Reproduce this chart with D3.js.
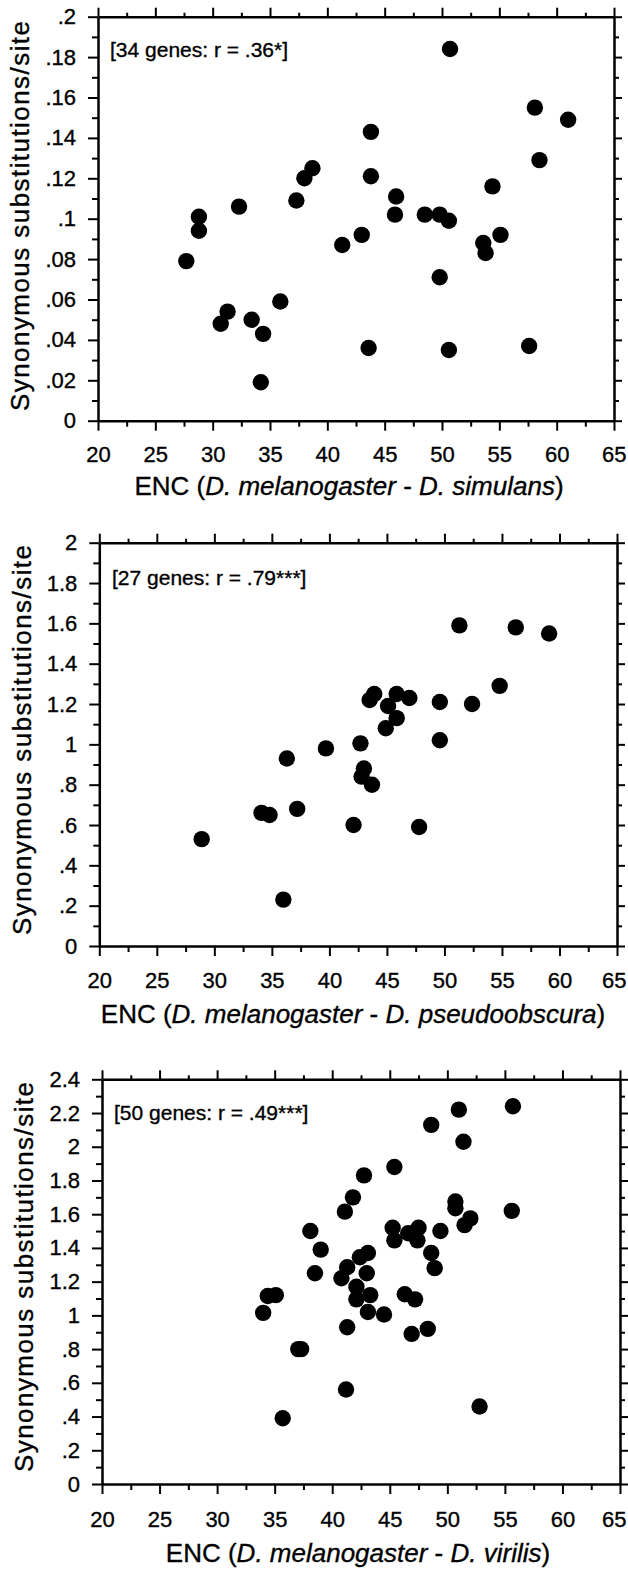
<!DOCTYPE html>
<html>
<head>
<meta charset="utf-8">
<script src="https://cdn.jsdelivr.net/npm/d3@7"></script>
<style>
  body { margin: 0; background: #fff; }
  svg { display: block; font-family: "Liberation Sans", Arial, Helvetica, sans-serif; }
  svg text { stroke: #000; stroke-width: 0.35px; }
</style>
</head>
<body>
<svg id="chart" width="628" height="1570"></svg>
<script>
// x axis (ENC) is shared by all three panels
const xTicks = [20, 25, 30, 35, 40, 45, 50, 55, 60, 65];
const xMinor = [22.5, 27.5, 32.5, 37.5, 42.5, 47.5, 52.5, 57.5, 62.5];

// panel 1: D. melanogaster - D. simulans
const enc1 = [50.7, 58.1, 61.0, 43.8, 58.5, 38.7, 38.0, 43.8, 54.4, 46.0, 37.3, 32.3, 28.8, 28.8, 27.7,
              45.9, 48.5, 49.8, 50.6, 43.0, 41.3, 53.6, 53.8, 55.1, 49.8, 35.9, 31.3, 30.7, 33.4, 34.4,
              34.2, 43.6, 50.6, 57.6];
const syn1 = [.184, .155, .149, .143, .129, .125, .120, .121, .116, .111, .109, .106, .101, .094, .079,
              .102, .102, .102, .099, .092, .087, .088, .083, .092, .071, .059, .054, .048, .050, .043,
              .019, .036, .035, .037];
const yTicks1 = [0, .02, .04, .06, .08, .1, .12, .14, .16, .18, .2];
const yLabels1 = ["0", ".02", ".04", ".06", ".08", ".1", ".12", ".14", ".16", ".18", ".2"];
const yMinor1 = [.01, .03, .05, .07, .09, .11, .13, .15, .17, .19];

// panel 2: D. melanogaster - D. pseudoobscura
const enc2 = [51.3, 56.2, 59.1, 54.8, 43.5, 43.9, 45.85, 46.95, 45.1, 45.85, 44.9, 49.6, 52.4, 49.6,
              42.7, 39.7, 36.3, 43.0, 42.8, 43.7, 34.1, 34.8, 37.2, 42.1, 47.8, 28.9, 36.0];
const syn2 = [1.59, 1.58, 1.55, 1.29, 1.22, 1.25, 1.25, 1.23, 1.19, 1.13, 1.08, 1.21, 1.20, 1.02,
              1.005, 0.98, 0.93, 0.88, 0.84, 0.80, 0.66, 0.65, 0.68, 0.60, 0.59, 0.53, 0.23];
const yTicks2 = [0, .2, .4, .6, .8, 1, 1.2, 1.4, 1.6, 1.8, 2];
const yLabels2 = ["0", ".2", ".4", ".6", ".8", "1", "1.2", "1.4", "1.6", "1.8", "2"];
const yMinor2 = [.1, .3, .5, .7, .9, 1.1, 1.3, 1.5, 1.7, 1.9];

// panel 3: D. melanogaster - D. virilis
const enc3 = [55.7, 51.0, 48.6, 51.4, 45.4, 42.76, 41.8, 41.1, 50.7, 50.7, 52.0, 51.5, 55.6, 38.1, 39.0,
              45.25, 45.4, 46.6, 47.5, 47.4, 49.4, 48.6, 48.9, 43.1, 42.4, 38.5, 41.3, 43.0, 40.8, 42.1,
              42.1, 43.3, 43.1, 44.5, 46.3, 47.2, 46.9, 48.3, 41.3, 34.4, 35.1, 34.0, 37.05, 37.3, 41.2,
              35.7, 52.8];
const syn3 = [2.24, 2.22, 2.13, 2.03, 1.88, 1.83, 1.70, 1.615, 1.675, 1.635, 1.575, 1.535, 1.62, 1.50, 1.39,
              1.52, 1.445, 1.487, 1.52, 1.445, 1.50, 1.37, 1.28, 1.37, 1.345, 1.25, 1.285, 1.25, 1.22, 1.17,
              1.095, 1.12, 1.02, 1.005, 1.125, 1.095, 0.89, 0.92, 0.93, 1.115, 1.12, 1.015, 0.80, 0.80, 0.56,
              0.39, 0.46];
const yTicks3 = [0, .2, .4, .6, .8, 1, 1.2, 1.4, 1.6, 1.8, 2, 2.2, 2.4];
const yLabels3 = ["0", ".2", ".4", ".6", ".8", "1", "1.2", "1.4", "1.6", "1.8", "2", "2.2", "2.4"];
const yMinor3 = [.1, .3, .5, .7, .9, 1.1, 1.3, 1.5, 1.7, 1.9, 2.1, 2.3];

const notes = ["[34 genes: r = .36*]", "[27 genes: r = .79***]", "[50 genes: r = .49***]"];
const species = ["D. simulans", "D. pseudoobscura", "D. virilis"];

// layout of each panel (pixels)
const panels = [
  { enc: enc1, syn: syn1, yMax: .2, yTicks: yTicks1, yLabels: yLabels1, yMinor: yMinor1,
    left: 98, right: 614, top: 16.7, bottom: 420.7, xPad: 16, titleY: 495, titleX: 349,
    yTitleX: 29, yTitleY: 216, noteY: 56.7, noteX: 110 },
  { enc: enc2, syn: syn2, yMax: 2, yTicks: yTicks2, yLabels: yLabels2, yMinor: yMinor2,
    left: 99.3, right: 617, top: 542.7, bottom: 946, xPad: 16, titleY: 1023, titleX: 353,
    yTitleX: 31, yTitleY: 740, noteY: 585, noteX: 112 },
  { enc: enc3, syn: syn3, yMax: 2.4, yTicks: yTicks3, yLabels: yLabels3, yMinor: yMinor3,
    left: 102, right: 620, top: 1079.3, bottom: 1484, xPad: 17, titleY: 1562, titleX: 358,
    yTitleX: 33, yTitleY: 1277, noteY: 1120, noteX: 114 }
];

const svg = d3.select("#chart");

function styleAxis(sel, showDomain) {
  sel.attr("font-family", null).attr("font-size", null);
  sel.select(".domain").attr("stroke", showDomain ? "#000" : "none").attr("stroke-width", 2.5);
  sel.selectAll(".tick line").attr("stroke", "#000").attr("stroke-width", 2);
  sel.selectAll(".tick text").attr("fill", "#000").style("font-size", "22px");
}

panels.forEach((p, i) => {
  const g = svg.append("g");
  const x = d3.scaleLinear().domain([20, 65]).range([p.left, p.right]);
  const y = d3.scaleLinear().domain([0, p.yMax]).range([p.bottom, p.top]);

  // bottom
  g.append("g").attr("transform", `translate(0,${p.bottom})`)
    .call(d3.axisBottom(x).tickValues(xMinor).tickSize(6).tickSizeOuter(0).tickFormat(""))
    .call(s => styleAxis(s, false));
  const bx = g.append("g").attr("transform", `translate(0,${p.bottom})`)
    .call(d3.axisBottom(x).tickValues(xTicks).tickSize(10).tickSizeOuter(0).tickPadding(p.xPad).tickFormat(d3.format("d")))
    .call(s => styleAxis(s, true));
  // the last label sits against the page edge, as in the print
  bx.selectAll(".tick text").filter(d => d === 65)
    .attr("text-anchor", "end").attr("x", 626 - x(65));

  // top
  g.append("g").attr("transform", `translate(0,${p.top})`)
    .call(d3.axisTop(x).tickValues(xMinor).tickSize(4).tickSizeOuter(0).tickFormat(""))
    .call(s => styleAxis(s, false));
  g.append("g").attr("transform", `translate(0,${p.top})`)
    .call(d3.axisTop(x).tickValues(xTicks).tickSize(9).tickSizeOuter(0).tickFormat(""))
    .call(s => styleAxis(s, true));

  // left
  g.append("g").attr("transform", `translate(${p.left},0)`)
    .call(d3.axisLeft(y).tickValues(p.yMinor).tickSize(6).tickSizeOuter(0).tickFormat(""))
    .call(s => styleAxis(s, false));
  g.append("g").attr("transform", `translate(${p.left},0)`)
    .call(d3.axisLeft(y).tickValues(p.yTicks).tickSize(10).tickSizeOuter(0).tickPadding(12)
      .tickFormat((d, k) => p.yLabels[k]))
    .call(s => styleAxis(s, true));

  // right
  g.append("g").attr("transform", `translate(${p.right},0)`)
    .call(d3.axisRight(y).tickValues(p.yMinor).tickSize(5).tickSizeOuter(0).tickFormat(""))
    .call(s => styleAxis(s, false));
  g.append("g").attr("transform", `translate(${p.right},0)`)
    .call(d3.axisRight(y).tickValues(p.yTicks).tickSize(8).tickSizeOuter(0).tickFormat(""))
    .call(s => styleAxis(s, true));

  // points
  g.selectAll("circle.pt")
    .data(p.enc.map((e, k) => [e, p.syn[k]]))
    .join("circle")
    .attr("class", "pt")
    .attr("cx", d => x(d[0]))
    .attr("cy", d => y(d[1]))
    .attr("r", 8.2)
    .attr("fill", "#000");

  // note
  g.append("text")
    .attr("x", p.noteX).attr("y", p.noteY)
    .style("font-size", "21px")
    .text(notes[i]);

  // x title
  const t = g.append("text")
    .attr("x", p.titleX).attr("y", p.titleY)
    .attr("text-anchor", "middle")
    .style("font-size", "26px");
  t.append("tspan").text("ENC (");
  t.append("tspan").attr("font-style", "italic").text("D. melanogaster");
  t.append("tspan").text(" - ");
  t.append("tspan").attr("font-style", "italic").text(species[i]);
  t.append("tspan").text(")");

  // y title
  g.append("text")
    .attr("transform", `translate(${p.yTitleX},${p.yTitleY}) rotate(-90)`)
    .attr("text-anchor", "middle")
    .attr("textLength", 390)
    .attr("lengthAdjust", "spacing")
    .style("font-size", "26px")
    .text("Synonymous substitutions/site");
});
</script>
</body>
</html>
